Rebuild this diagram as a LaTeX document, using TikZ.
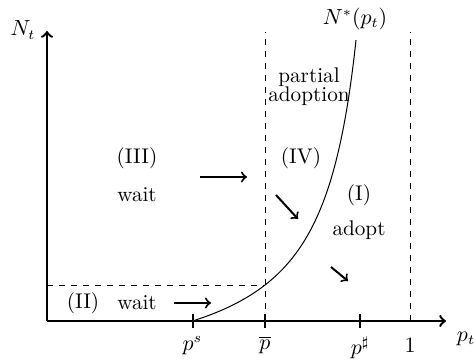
\documentclass[tikz,border=0pt]{standalone}
\begin{document}
\begin{tikzpicture}[x=0.5pt,y=-0.5pt,
  axis/.style={line width=1.2pt,->},
  flow/.style={line width=1pt,->},
  guide/.style={dashed,line width=0.4pt},
  tickmark/.style={line width=1pt},
  lbl/.style={inner sep=0pt,font=\fontsize{10.6}{13}\selectfont}]
\useasboundingbox (0,0) rectangle (474,362);
\coordinate (O) at (47,321);
\coordinate (xend) at (446,321);
\coordinate (yend) at (47,31);
\draw[axis] (O) -- (xend);
\draw[axis] (O) -- (yend);
\node[lbl] (Nt) at (23,30) {$N_t$};
\node[lbl] (pt) at (466,339) {$p_t$};
% ticks
\coordinate (ps) at (192.5,321);
\coordinate (pb) at (265,321);
\coordinate (pd) at (359.5,321);
\coordinate (one) at (410,321);
\foreach \c in {ps,pb,pd}{\draw[tickmark] ([yshift=3.5]\c) -- ([yshift=-3.5]\c);}
\node[lbl] (lps) at (192.5,346) {$p^s$};
\node[lbl] (lpb) at (265,345) {$\overline{p}$};
\node[lbl] (lpd) at (360,348) {$p^\sharp$};
\node[lbl] (lone) at (410,345) {$1$};
% guides
\coordinate (pbtop) at (265,32);
\coordinate (onetop) at (410,32);
\coordinate (cross) at (265,285);
\coordinate (ylev) at (47,285);
\draw[guide] (pb) -- (pbtop);
\draw[guide] (one) -- (onetop);
\draw[guide] (ylev) -- (cross);
% curve
\draw[line width=0.5pt] plot[domain=0:163.5,samples=120,smooth] ({192.5+\x},{321-63.56*\x/(200.5-\x)});
\node[lbl] (Nstar) at (355,19) {$N^*(p_t)$};
% region labels
\node[lbl] (partial) at (309,77) {partial};
\node[lbl] (adoption) at (309,96) {adoption};
\node[lbl] (III) at (137,158) {(III)};
\node[lbl] (wait1) at (137,195) {wait};
\node[lbl] (IV) at (301,158) {(IV)};
\node[lbl] (I) at (359,195) {(I)};
\node[lbl] (adopt) at (359,230) {adopt};
\node[lbl] (II) at (83,303) {(II)};
\node[lbl] (wait2) at (137,303) {wait};
% flow arrows
\coordinate (a1s) at (200,177); \coordinate (a1e) at (247,177);
\coordinate (a2s) at (276,195); \coordinate (a2e) at (298,219);
\coordinate (a3s) at (331,267); \coordinate (a3e) at (348,281);
\coordinate (a4s) at (174,303); \coordinate (a4e) at (211,303);
\draw[flow] (a1s) -- (a1e);
\draw[flow] (a2s) -- (a2e);
\draw[flow] (a3s) -- (a3e);
\draw[flow] (a4s) -- (a4e);
\end{tikzpicture}
\end{document}
